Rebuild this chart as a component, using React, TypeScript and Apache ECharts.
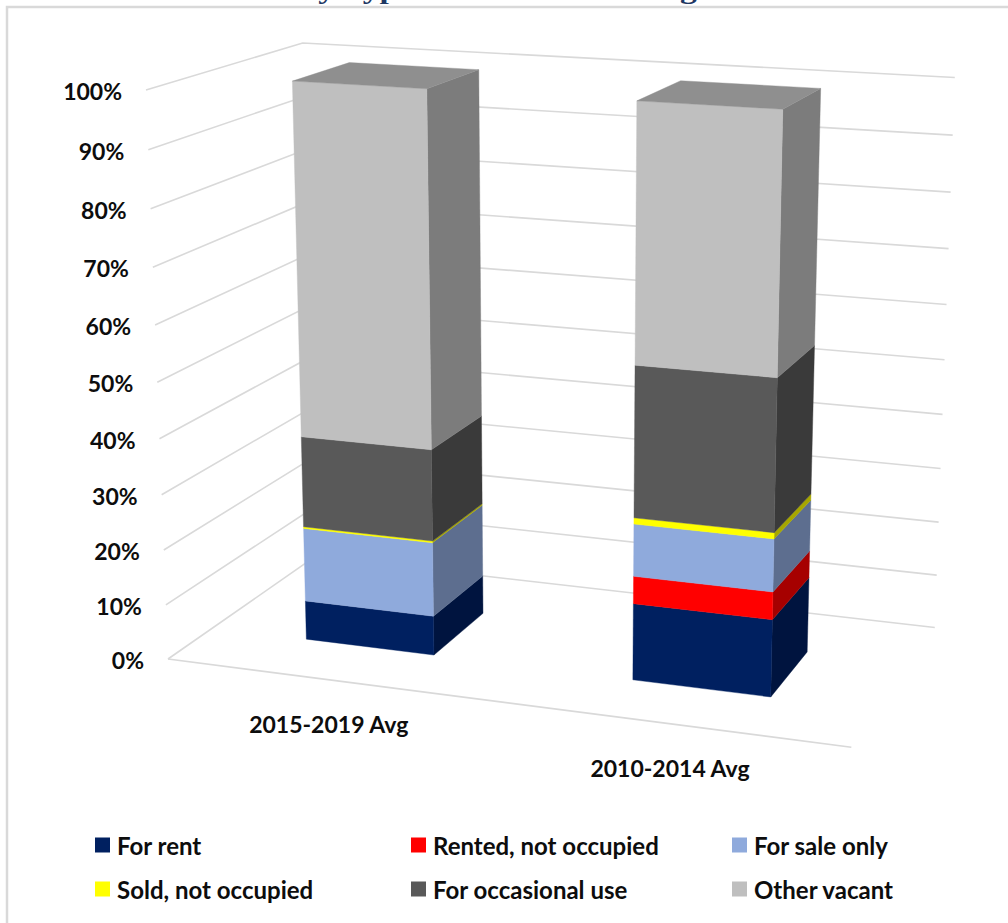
import React, { useEffect, useRef } from "react";
import * as echarts from "echarts";

// Chart content
const chartTitle = "U.S. Seasonal Vacancy Types of Vacant Housing Units";
const categories = ["2015-2019 Avg", "2010-2014 Avg"];
const yTicks = [0, 10, 20, 30, 40, 50, 60, 70, 80, 90, 100];
const forRent = [7.2, 13.8];
const rentedNotOccupied = [0, 4.9];
const forSaleOnly = [13.5, 9.3];
const soldNotOccupied = [0.3, 1.1];
const forOccasionalUse = [16.5, 26.6];
const otherVacant = [62.5, 44.3];

const stackOrder = [
  { name: "For rent", values: forRent, front: "#002060", side: "#00143F" },
  { name: "Rented, not occupied", values: rentedNotOccupied, front: "#FF0000", side: "#A60000" },
  { name: "For sale only", values: forSaleOnly, front: "#8FAADC", side: "#5D6E8F" },
  { name: "Sold, not occupied", values: soldNotOccupied, front: "#FFFF00", side: "#A6A600" },
  { name: "For occasional use", values: forOccasionalUse, front: "#595959", side: "#3A3A3A" },
  { name: "Other vacant", values: otherVacant, front: "#BFBFBF", side: "#7C7C7C" },
];
const TOP_FACE = "#8F8F8F";
const GRID_COLOR = "#D9D9D9";
const TEXT_FONT = "Lato";

// Perspective camera: floor corner plus the vanishing point of each box direction.
const CAM = {
  origin: [168, 659],
  vanishX: [-8000, -395],
  vanishY: [562.6, 10868],
  vanishZ: [1617, -350],
  ax: -0.0772,
  ay: -0.0528,
  az: 0.1129,
};
const BAR_WIDTH = 0.4;
const BAR_NEAR = 0.285;
const BAR_FAR = 0.67;

// u runs along the categories, v up the value axis, d into the depth of the box.
function project(u: number, v: number, d: number): [number, number] {
  const { origin, vanishX, vanishY, vanishZ, ax, ay, az } = CAM;
  const w = 1 + ax * u + ay * v + az * d;
  return [
    (origin[0] + ax * u * vanishX[0] + ay * v * vanishY[0] + az * d * vanishZ[0]) / w,
    (origin[1] + ax * u * vanishX[1] + ay * v * vanishY[1] + az * d * vanishZ[1]) / w,
  ];
}

const toU = (px: number, cs: any) => (px - cs.x) / cs.width;
const toV = (py: number, cs: any) => (cs.y + cs.height - py) / cs.height;

function renderBarSegment(params: any, api: any) {
  const cs = params.coordSys;
  const cat = api.value(0);
  const base = api.value(1);
  const top = api.value(2);
  if (top - base <= 0) return null;
  const [cx, y0] = api.coord([cat, base]);
  const [, y1] = api.coord([cat, top]);
  const half = (BAR_WIDTH * api.size([1, 0])[0]) / 2 / cs.width;
  const uL = toU(cx, cs) - half;
  const uR = toU(cx, cs) + half;
  const v0 = toV(y0, cs);
  const v1 = toV(y1, cs);
  const fill = api.style().fill;
  const sideFill = stackOrder[params.seriesIndex - 1].side;
  const quad = (points: number[][], color: string) => ({
    type: "polygon",
    shape: { points },
    style: { fill: color, stroke: color, lineWidth: 0.4 },
  });
  const children: any[] = [
    quad(
      [project(uR, v0, BAR_NEAR), project(uR, v0, BAR_FAR), project(uR, v1, BAR_FAR), project(uR, v1, BAR_NEAR)],
      sideFill,
    ),
    quad(
      [project(uL, v0, BAR_NEAR), project(uR, v0, BAR_NEAR), project(uR, v1, BAR_NEAR), project(uL, v1, BAR_NEAR)],
      fill,
    ),
  ];
  if (top >= 99.99) {
    children.push(
      quad(
        [project(uL, v1, BAR_NEAR), project(uR, v1, BAR_NEAR), project(uR, v1, BAR_FAR), project(uL, v1, BAR_FAR)],
        TOP_FACE,
      ),
    );
  }
  return { type: "group", children };
}

function renderGridTick(params: any, api: any) {
  const cs = params.coordSys;
  const tick = api.value(1);
  const v = toV(api.coord([0, tick])[1], cs);
  const lineStyle = { stroke: GRID_COLOR, lineWidth: 1.6, fill: "none" };
  const start = project(0, v, 0);
  const children: any[] = [
    {
      type: "polyline",
      shape: { points: [start, project(0, v, 1), project(1, v, 1)] },
      style: lineStyle,
    },
    {
      type: "text",
      style: {
        text: `${tick}%`,
        x: start[0] - 24,
        y: start[1] + 1,
        align: "right",
        verticalAlign: "middle",
        fill: "#0D0D0D",
        fontFamily: TEXT_FONT,
        fontSize: 23,
        fontWeight: "bold",
      },
    },
  ];
  if (tick === 0) {
    children.push({
      type: "polyline",
      shape: { points: [start, project(1, 0, 0)] },
      style: lineStyle,
    });
  }
  return { type: "group", children };
}

function renderCategoryLabel(params: any, api: any) {
  const cs = params.coordSys;
  const [cx] = api.coord([api.value(0), 0]);
  const anchor = project(toU(cx, cs), 0, 0);
  return {
    type: "text",
    style: {
      text: categories[params.dataIndex],
      x: anchor[0],
      y: anchor[1] + 44,
      align: "center",
      verticalAlign: "middle",
      fill: "#0D0D0D",
      fontFamily: TEXT_FONT,
      fontSize: 23,
      fontWeight: "bold",
    },
  };
}

function buildSegments(values: number[], index: number) {
  return categories.map((cat, c) => {
    let base = 0;
    for (let s = 0; s < index; s++) base += stackOrder[s].values[c];
    return [cat, base, base + values[c]];
  });
}

const legendSlots = [
  { left: 95, top: 833 },
  { left: 411, top: 833 },
  { left: 732, top: 833 },
  { left: 95, top: 877 },
  { left: 411, top: 877 },
  { left: 732, top: 877 },
];

function buildOption() {
  return {
    animation: false,
    backgroundColor: "#FFFFFF",
    grid: { left: 100, top: 100, width: 800, height: 600 },
    xAxis: { type: "category", data: categories, show: false },
    yAxis: { type: "value", min: 0, max: 100, interval: 10, show: false },
    legend: stackOrder.map((s, i) => ({
      data: [s.name],
      left: legendSlots[i].left,
      top: legendSlots[i].top,
      padding: 0,
      icon: "rect",
      itemWidth: 15,
      itemHeight: 15,
      selectedMode: false,
      textStyle: {
        color: "#0D0D0D",
        fontFamily: TEXT_FONT,
        fontSize: 24,
        fontWeight: "bold",
        padding: [0, 0, 0, 2],
      },
    })),
    graphic: [
      {
        type: "text",
        silent: true,
        x: 15,
        y: 3,
        scaleX: 1.34,
        style: {
          text: chartTitle,
          fill: "#1F3864",
          fontFamily: "Liberation Serif",
          fontSize: 25,
          fontWeight: "bold",
          verticalAlign: "bottom",
        },
      },
      {
        type: "rect",
        silent: true,
        shape: { x: 7, y: 7, width: 1200, height: 1200 },
        style: { fill: "none", stroke: "#D9D9D9", lineWidth: 2.5 },
      },
    ],
    series: [
      {
        type: "custom",
        name: "gridlines",
        silent: true,
        renderItem: renderGridTick,
        encode: { x: 0, y: 1 },
        data: yTicks.map((t) => [0, t]),
        z: 1,
      },
      ...stackOrder.map((s, i) => ({
        type: "custom",
        name: s.name,
        silent: true,
        renderItem: renderBarSegment,
        itemStyle: { color: s.front },
        encode: { x: 0, y: [1, 2] },
        data: buildSegments(s.values, i),
        z: 2,
      })),
      {
        type: "custom",
        name: "category labels",
        silent: true,
        renderItem: renderCategoryLabel,
        encode: { x: 0 },
        data: categories.map((c) => [c]),
        z: 3,
      },
    ],
  };
}

export default function App() {
  const ref = useRef<HTMLDivElement>(null);
  useEffect(() => {
    document.body.style.margin = "0";
    const chart = echarts.init(ref.current!, undefined, { renderer: "svg" });
    chart.setOption(buildOption() as any);
    return () => chart.dispose();
  }, []);
  return <div ref={ref} style={{ width: 1008, height: 923 }} />;
}
